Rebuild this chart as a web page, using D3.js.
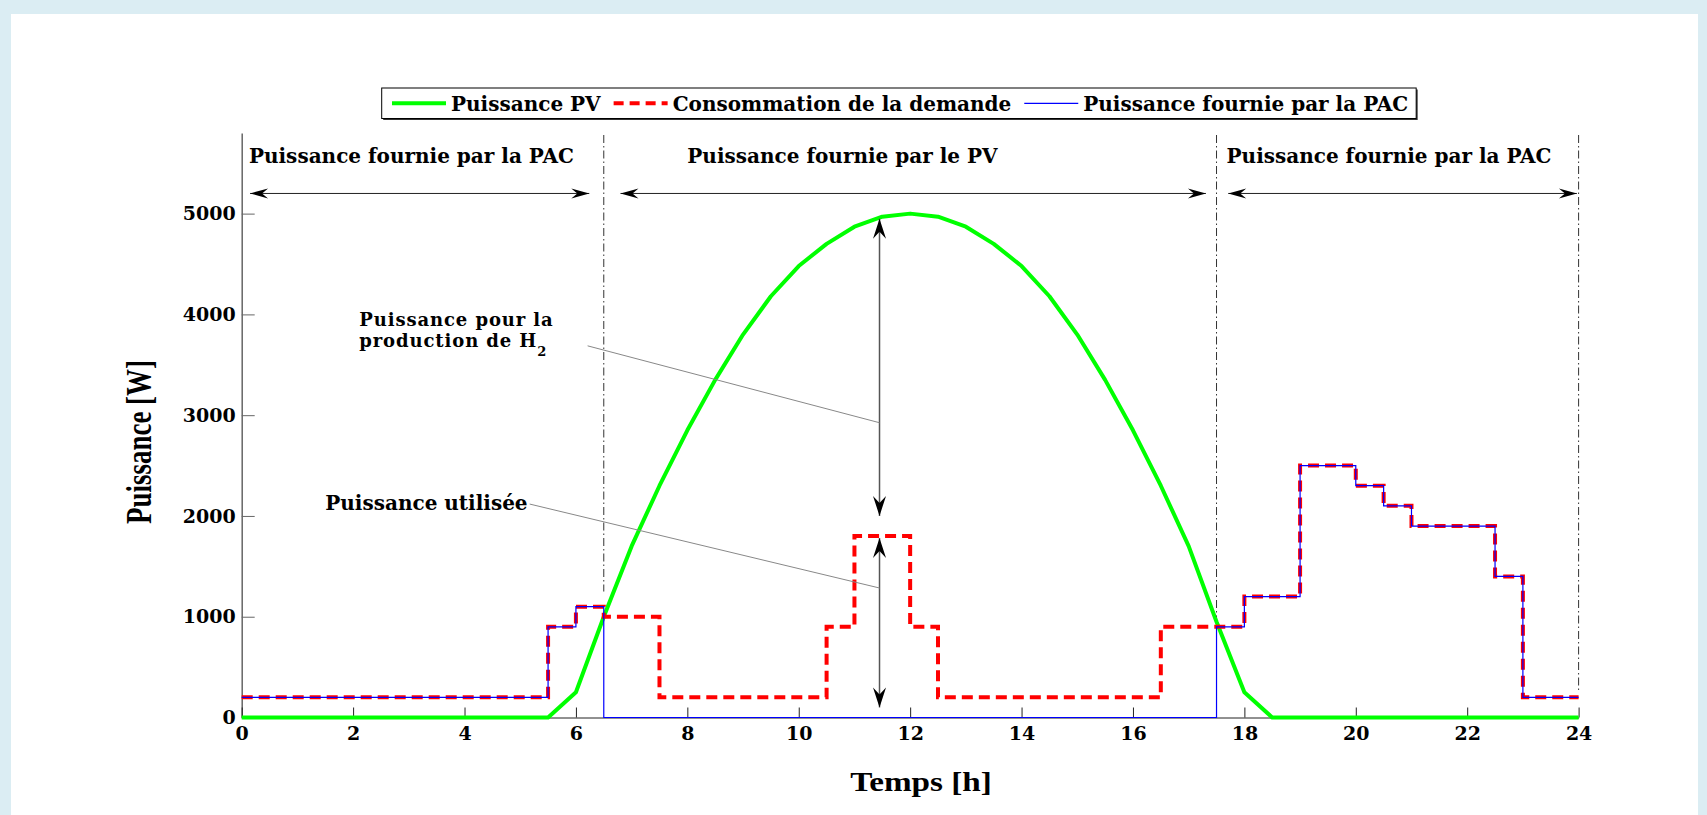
<!DOCTYPE html>
<html>
<head>
<meta charset="utf-8">
<script src="https://cdn.jsdelivr.net/npm/d3@7/dist/d3.min.js"></script>
<style>
body { margin: 0; background: #dbedf3; }
svg { display: block; }
</style>
</head>
<body>
<div id="chart"></div>
<script>
// values (hours, watts)
var pvHours = [0, 5.5, 6, 6.5, 7, 7.5, 8, 8.5, 9, 9.5, 10, 10.5, 11, 11.5, 12,
               12.5, 13, 13.5, 14, 14.5, 15, 15.5, 16, 16.5, 17, 17.5, 18, 18.5, 24];
var pvPower = [0, 0, 250, 1000, 1700, 2300, 2850, 3350, 3800, 4180, 4480, 4700, 4870, 4970, 5000,
               4970, 4870, 4700, 4480, 4180, 3800, 3350, 2850, 2300, 1700, 950, 250, 0, 0];

var demandHours = [0, 5.5, 6, 6.5, 7.5, 10.5, 11, 12, 12.5, 16.5, 18, 19, 20, 20.5, 21, 22.5, 23, 24];
var demandPower = [200, 900, 1100, 1000, 200, 900, 1800, 900, 200, 900, 1200, 2500, 2300, 2100, 1900, 1400, 200, 200];

var pacHours = [0, 5.5, 6, 6.5, 17.5, 18, 19, 20, 20.5, 21, 22.5, 23, 24];
var pacPower = [200, 900, 1100, 0, 900, 1200, 2500, 2300, 2100, 1900, 1400, 200, 200];

var xTicks = [0, 2, 4, 6, 8, 10, 12, 14, 16, 18, 20, 22, 24];
var yTicks = [0, 1000, 2000, 3000, 4000, 5000];

var legendLabels = ["Puissance PV", "Consommation de la demande", "Puissance fournie par la PAC"];

// zones of the day
var zoneLabels = ["Puissance fournie par la PAC", "Puissance fournie par le PV", "Puissance fournie par la PAC"];
var zoneLabelStart = [0.13, 8, 17.68];
var zoneArrowFrom = [0.15, 6.8, 17.71];
var zoneArrowTo = [6.24, 17.31, 23.97];
var dividerHours = [6.5, 17.5, 24];
var dividerBottom = [1250, 1000, 250];

// vertical arrows at t = 11.45 h
var arrowHour = 11.45;
var arrowTop = [4950, 1780];
var arrowBottom = [2000, 100];

var font = "'DejaVu Serif', serif";
var times = "'Liberation Serif', 'Times New Roman', Times, serif";

var svg = d3.select("#chart").append("svg")
  .attr("width", 1707)
  .attr("height", 815);

svg.append("rect").attr("width", 1707).attr("height", 815).attr("fill", "#dbedf3");
svg.append("rect").attr("x", 11).attr("y", 14).attr("width", 1687).attr("height", 801).attr("fill", "#fff");

var x = d3.scaleLinear().domain([0, 24]).range([241.7, 1578.6]);
var y = d3.scaleLinear().domain([0, 5800]).range([717.5, 133]);

// arrow heads
var defs = svg.append("defs");
defs.append("marker")
  .attr("id", "headBig")
  .attr("viewBox", "-22 -8 24 16")
  .attr("refX", 0).attr("refY", 0)
  .attr("markerWidth", 24).attr("markerHeight", 16)
  .attr("markerUnits", "userSpaceOnUse")
  .attr("orient", "auto-start-reverse")
  .append("path").attr("d", "M0,0 L-20,-6.5 L-13,0 L-20,6.5 Z").attr("fill", "#000");
defs.append("marker")
  .attr("id", "headSmall")
  .attr("viewBox", "-22 -8 24 16")
  .attr("refX", 0).attr("refY", 0)
  .attr("markerWidth", 24).attr("markerHeight", 16)
  .attr("markerUnits", "userSpaceOnUse")
  .attr("orient", "auto-start-reverse")
  .append("path").attr("d", "M0,0 L-18,-5 L-12,0 L-18,5 Z").attr("fill", "#000");

// axes
var yAxis = svg.append("g")
  .attr("transform", "translate(" + x(0) + ",0)")
  .call(d3.axisLeft(y).tickValues(yTicks).tickFormat(d3.format("d"))
    .tickSizeInner(-13).tickSizeOuter(0).tickPadding(6));
yAxis.select(".domain").attr("stroke", "#666").attr("stroke-width", 1.5);
yAxis.selectAll(".tick line").attr("stroke", "#666");

var xAxis = svg.append("g")
  .attr("transform", "translate(0," + y(0) + ")")
  .call(d3.axisBottom(x).tickValues(xTicks).tickFormat(d3.format("d"))
    .tickSizeInner(-10).tickSizeOuter(0).tickPadding(9));
xAxis.select(".domain").attr("stroke", "#222");
xAxis.selectAll(".tick line").attr("stroke", "#222");

svg.selectAll(".tick text")
  .attr("font-family", font)
  .attr("font-weight", "bold")
  .attr("font-size", 19)
  .attr("fill", "#000");

svg.append("text")
  .attr("transform", "translate(139,442) scale(1.3,1) rotate(-90)")
  .attr("text-anchor", "middle")
  .attr("dominant-baseline", "central")
  .attr("font-family", times)
  .attr("font-weight", "bold")
  .attr("font-size", 27)
  .text("Puissance [W]");

svg.append("text")
  .attr("transform", "translate(921,791) scale(1.23,1)")
  .attr("text-anchor", "middle")
  .attr("font-family", times)
  .attr("font-weight", "bold")
  .attr("font-size", 27)
  .text("Temps [h]");

// series
var lineLin = d3.line().x(function(d) { return x(d[0]); }).y(function(d) { return y(d[1]); });
var lineStep = d3.line().x(function(d) { return x(d[0]); }).y(function(d) { return y(d[1]); })
  .curve(d3.curveStepAfter);

var pvData = pvHours.map(function(h, i) { return [h, pvPower[i]]; });
var demandData = demandHours.map(function(h, i) { return [h, demandPower[i]]; });
var pacData = pacHours.map(function(h, i) { return [h, pacPower[i]]; });

svg.append("path")
  .attr("d", lineLin(pvData))
  .attr("fill", "none")
  .attr("stroke", "#00ff00")
  .attr("stroke-width", 4)
  .attr("stroke-linejoin", "round");

svg.append("path")
  .attr("d", lineStep(demandData))
  .attr("fill", "none")
  .attr("stroke", "#ff0000")
  .attr("stroke-width", 4)
  .attr("stroke-dasharray", "11,6");

svg.append("path")
  .attr("d", lineStep(pacData))
  .attr("fill", "none")
  .attr("stroke", "#0000ff")
  .attr("stroke-width", 1.2);

// dash-dot dividers
svg.selectAll(".divider")
  .data(dividerHours)
  .enter()
  .append("line")
  .attr("x1", function(d) { return x(d); })
  .attr("x2", function(d) { return x(d); })
  .attr("y1", y(5780))
  .attr("y2", function(d, i) { return y(dividerBottom[i]); })
  .attr("stroke", "#333")
  .attr("stroke-width", 1)
  .attr("stroke-dasharray", "8,3,1.5,3");

// zone arrows and headers
svg.selectAll(".zoneArrow")
  .data(zoneArrowFrom)
  .enter()
  .append("line")
  .attr("x1", function(d) { return x(d); })
  .attr("x2", function(d, i) { return x(zoneArrowTo[i]); })
  .attr("y1", y(5200))
  .attr("y2", y(5200))
  .attr("stroke", "#222")
  .attr("stroke-width", 1)
  .attr("marker-start", "url(#headSmall)")
  .attr("marker-end", "url(#headSmall)");

svg.selectAll(".zoneLabel")
  .data(zoneLabels)
  .enter()
  .append("text")
  .attr("x", function(d, i) { return x(zoneLabelStart[i]); })
  .attr("y", y(5506))
  .attr("font-family", font)
  .attr("font-weight", "bold")
  .attr("font-size", 20)
  .text(function(d) { return d; });

// vertical arrows at noon
svg.selectAll(".vArrow")
  .data(arrowTop)
  .enter()
  .append("line")
  .attr("x1", x(arrowHour))
  .attr("x2", x(arrowHour))
  .attr("y1", function(d) { return y(d); })
  .attr("y2", function(d, i) { return y(arrowBottom[i]); })
  .attr("stroke", "#555")
  .attr("stroke-width", 1.5)
  .attr("marker-start", "url(#headBig)")
  .attr("marker-end", "url(#headBig)");

// annotations
var notes = svg.append("g")
  .attr("font-family", font)
  .attr("font-weight", "bold")
  .attr("font-size", 20);

notes.append("text").attr("x", x(2.11)).attr("y", y(3885))
  .attr("font-size", 18).attr("letter-spacing", 0.9)
  .text("Puissance pour la");
var h2 = notes.append("text").attr("x", x(2.11)).attr("y", y(3675))
  .attr("font-size", 18).attr("letter-spacing", 0.9);
h2.append("tspan").text("production de H");
h2.append("tspan").attr("dy", 9).attr("font-size", 13).text("2");
notes.append("text").attr("x", x(1.5)).attr("y", y(2058)).text("Puissance utilisée");

svg.append("line")
  .attr("x1", x(6.21)).attr("y1", y(3688))
  .attr("x2", x(arrowHour)).attr("y2", y(2925))
  .attr("stroke", "#888").attr("stroke-width", 1);
svg.append("line")
  .attr("x1", x(5.17)).attr("y1", y(2118))
  .attr("x2", x(arrowHour)).attr("y2", y(1285))
  .attr("stroke", "#888").attr("stroke-width", 1);

// legend
var legend = svg.append("g");
var shadow = legend.append("rect")
  .attr("x", 383.2).attr("y", 89.5).attr("height", 30.5)
  .attr("fill", "#333");
var box = legend.append("rect")
  .attr("x", 381.7).attr("y", 88).attr("height", 30.5)
  .attr("fill", "#fff").attr("stroke", "#000").attr("stroke-width", 1);

var legendStyles = [
  { color: "#00ff00", width: 4, dash: null },
  { color: "#ff0000", width: 4, dash: "10,6" },
  { color: "#0000ff", width: 1.2, dash: null }
];

var lx = 392;
legendLabels.forEach(function(label, i) {
  var st = legendStyles[i];
  legend.append("line")
    .attr("x1", lx).attr("x2", lx + 54)
    .attr("y1", 103.3).attr("y2", 103.3)
    .attr("stroke", st.color)
    .attr("stroke-width", st.width)
    .attr("stroke-dasharray", st.dash);
  var t = legend.append("text")
    .attr("x", lx + 59)
    .attr("y", 110.8)
    .attr("font-family", font)
    .attr("font-weight", "bold")
    .attr("font-size", 20)
    .text(label);
  lx = lx + 59 + t.node().getComputedTextLength() + 13;
});
var boxW = lx - 13 + 8 - 381.7;
box.attr("width", boxW);
shadow.attr("width", boxW);
</script>
</body>
</html>
